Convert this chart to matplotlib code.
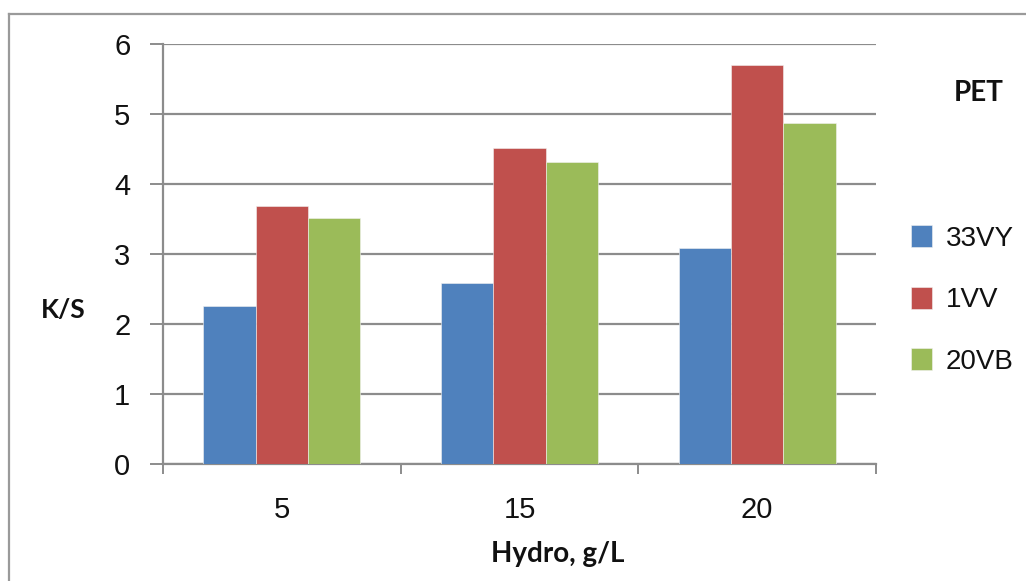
import matplotlib
matplotlib.use("Agg")
import matplotlib.pyplot as plt
import numpy as np
from matplotlib.lines import Line2D
from matplotlib.patches import Patch

categories = ["5", "15", "20"]
series_names = ["33VY", "1VV", "20VB"]
vals_33VY = [2.26, 2.59, 3.08]
vals_1VV = [3.69, 4.51, 5.70]
vals_20VB = [3.52, 4.32, 4.87]
colors = ["#4F81BD", "#C0504D", "#9BBB59"]
y_ticks = [0, 1, 2, 3, 4, 5, 6]

W, H = 1026, 581
fig = plt.figure(figsize=(W / 100, H / 100), dpi=100)
fig.patch.set_facecolor("white")

# outer chart border (extends past right / bottom edge)
fig.add_artist(Line2D([9 / W, 1.02], [1 - 14 / H, 1 - 14 / H], transform=fig.transFigure,
                      color="#9a9a9a", lw=1.6))
fig.add_artist(Line2D([9 / W, 9 / W], [1 - 14 / H, -0.02], transform=fig.transFigure,
                      color="#9a9a9a", lw=1.6))

left, right, top, bottom = 163, 876, 44, 464
ax = fig.add_axes([left / W, 1 - bottom / H, (right - left) / W, (bottom - top) / H])

x = np.arange(len(categories))
bw = 0.22
data = [vals_33VY, vals_1VV, vals_20VB]
for i, (vals, c) in enumerate(zip(data, colors)):
    ax.bar(x + (i - 1) * bw, vals, width=bw, color=c, edgecolor="#f2f2f2", linewidth=0.4, zorder=3)

ax.set_xlim(-0.5, len(categories) - 0.5)
ax.set_ylim(0, 6)
ax.set_yticks(y_ticks)
ax.set_yticklabels([str(t) for t in y_ticks], fontsize=21, family="Liberation Sans", color="#111111")
ax.yaxis.grid(True, color="#8c8c8c", lw=1.6, zorder=0)
ax.set_axisbelow(True)

# x ticks at category boundaries, labels at centers
ax.set_xticks(np.arange(-0.5, len(categories), 1.0))
ax.set_xticklabels([])
ax.set_xticks(x, minor=True)
ax.set_xticklabels(categories, minor=True, fontsize=21, family="Liberation Sans", color="#111111")
ax.tick_params(axis="x", which="major", length=7, width=1.4, color="#8c8c8c")
ax.tick_params(axis="x", which="minor", length=0, pad=23)
ax.tick_params(axis="y", length=9.5, width=1.4, color="#8c8c8c", pad=14)

for s in ["top", "right"]:
    ax.spines[s].set_visible(False)
ax.spines["left"].set_color("#8c8c8c")
ax.spines["left"].set_linewidth(1.6)
ax.spines["bottom"].set_color("#8c8c8c")
ax.spines["bottom"].set_linewidth(1.6)

# axis labels and title
fig.text(63 / W, 1 - 310 / H, "K/S", fontsize=19, fontweight="bold", family="Lato",
         ha="center", va="center", color="#111111")
fig.text(558 / W, 1 - 554 / H, "Hydro, g/L", fontsize=20, fontweight="bold", family="Lato",
         ha="center", va="center", color="#111111")
fig.text(979 / W, 1 - 93 / H, "PET", fontsize=20, fontweight="bold", family="Lato",
         ha="center", va="center", color="#111111")

# legend
handles = [Patch(facecolor=c, edgecolor="#f2f2f2", linewidth=0.4) for c in colors]
leg = fig.legend(handles, series_names, loc="center left", bbox_to_anchor=(897 / W, 1 - 300 / H),
                 frameon=False, handlelength=0.75, handleheight=0.85,
                 handletextpad=0.5, labelspacing=1.25, borderpad=0,
                 prop={"family": "Liberation Sans", "size": 20})
for t in leg.get_texts():
    t.set_color("#111111")

fig.savefig("out.png", dpi=100, facecolor="white")
